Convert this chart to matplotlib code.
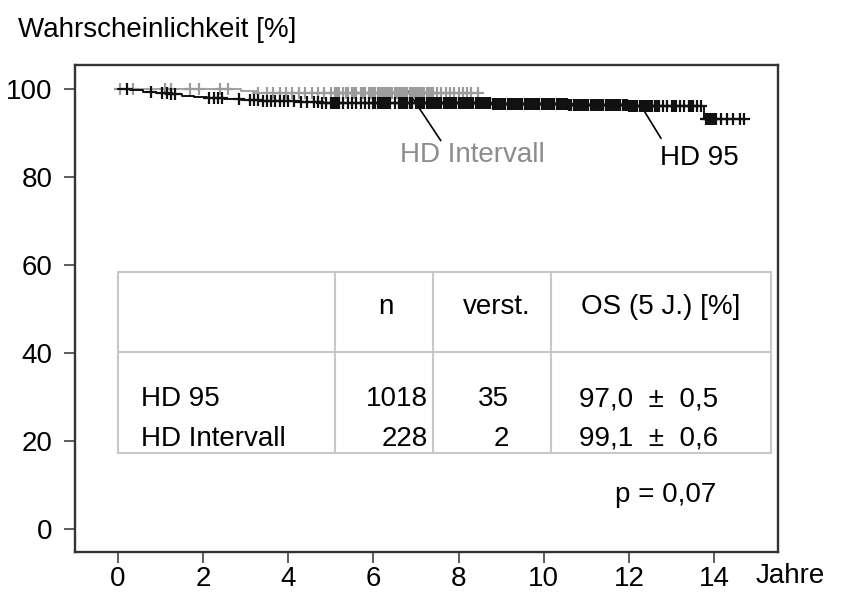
import matplotlib
matplotlib.use("Agg")
import matplotlib.pyplot as plt
from matplotlib.patches import Rectangle

plt.rcParams['font.family'] = ['Liberation Sans', 'DejaVu Sans']

# Kaplan-Meier steps (Jahre, Überleben in %)
hd95_time = [0, 0.3, 0.6, 0.9, 1.2, 1.5, 1.8, 2.1, 2.5, 2.9, 3.4, 4.2, 4.8, 7.0, 8.8, 10.6, 12.0, 13.75]
hd95_surv = [100, 99.8, 99.5, 99.2, 98.9, 98.6, 98.3, 98.1, 97.9, 97.6, 97.4, 97.2, 97.0, 96.8, 96.6, 96.4, 96.2, 93.2]
hdint_time = [0, 2.9, 3.3]
hdint_surv = [100, 99.55, 99.1]

# zensierte Beobachtungen
hd95_cens = [0.22, 0.78, 1.05, 1.15, 1.25, 1.35, 2.15, 2.25, 2.35, 2.45, 2.85,
             3.1, 3.2, 3.3, 3.4, 3.5, 3.6, 3.7, 3.8, 3.9, 4.0, 4.15, 4.3, 4.45,
             4.6, 4.7, 4.8, 4.9, 5.0, 5.05, 5.1, 5.15, 5.2, 5.3, 5.4, 5.5, 5.6,
             5.7, 5.8, 5.9, 6.0, 6.05, 6.1, 6.15, 6.2, 6.25, 6.3, 6.35, 6.4, 6.5,
             6.6, 6.65, 6.7, 6.75, 6.8, 6.85, 6.9, 7.0, 7.05, 7.1, 7.15, 7.2, 7.25,
             7.3, 7.35, 7.4, 7.45, 7.5, 7.55, 7.6, 7.65, 7.7, 7.75, 7.8, 7.85, 7.9,
             7.95, 8.0, 8.05, 8.1, 8.15, 8.2, 8.25, 8.3, 8.35, 8.4, 8.45, 8.5, 8.55,
             8.6, 8.65, 8.7, 8.75, 8.8, 8.85, 8.9, 8.95, 9.0, 9.05, 9.1, 9.15, 9.2,
             9.25, 9.3, 9.35, 9.4, 9.45, 9.5, 9.55, 9.6, 9.65, 9.7, 9.75, 9.8, 9.85,
             9.9, 9.95, 10.0, 10.05, 10.1, 10.15, 10.2, 10.25, 10.3, 10.35, 10.4,
             10.45, 10.5, 10.55, 10.6, 10.65, 10.7, 10.75, 10.8, 10.85, 10.9, 10.95,
             11.0, 11.05, 11.1, 11.15, 11.2, 11.25, 11.3, 11.35, 11.4, 11.45, 11.5,
             11.55, 11.6, 11.65, 11.7, 11.75, 11.8, 11.85, 11.9, 11.95, 12.0, 12.05,
             12.1, 12.15, 12.2, 12.25, 12.3, 12.35, 12.4, 12.45, 12.5, 12.55, 12.6,
             12.65, 12.7, 12.8, 12.9, 13.0, 13.05, 13.1, 13.2, 13.3, 13.4, 13.45,
             13.5, 13.6, 13.7, 13.8, 13.85, 13.9, 13.95, 14.0, 14.05, 14.15, 14.3,
             14.45, 14.6, 14.7]
hdint_cens = [0.05, 0.35, 1.1, 1.25, 1.7, 1.9, 2.4, 2.6, 3.3, 3.5, 3.65, 3.8,
              3.95, 4.1, 4.25, 4.4, 4.55, 4.7, 4.85, 5.0, 5.1, 5.15, 5.2, 5.3, 5.35,
              5.4, 5.5, 5.55, 5.6, 5.7, 5.75, 5.8, 5.9, 5.95, 6.0, 6.05, 6.1, 6.15,
              6.2, 6.25, 6.3, 6.35, 6.4, 6.45, 6.5, 6.55, 6.6, 6.65, 6.7, 6.75, 6.8,
              6.85, 6.9, 6.95, 7.0, 7.05, 7.1, 7.15, 7.2, 7.25, 7.3, 7.35, 7.4, 7.5,
              7.6, 7.7, 7.8, 7.9, 8.0, 8.1, 8.2, 8.3, 8.45]

# Tabelle
tab_header = ["n", "verst.", "OS (5 J.) [%]"]
tab_groups = ["HD 95", "HD Intervall"]
tab_n = [1018, 228]
tab_deaths = [35, 2]
tab_os = ["97,0  \u00b1  0,5", "99,1  \u00b1  0,6"]
p_text = "p = 0,07"

xticks = [0, 2, 4, 6, 8, 10, 12, 14]
yticks = [0, 20, 40, 60, 80, 100]

black = "#000000"
grey = "#8c8c8c"
grey_mark = "#9c9c9c"
table_col = "#c8c8c8"


def surv_at(times, surv, t):
    s = surv[0]
    for ti, si in zip(times, surv):
        if ti <= t:
            s = si
    return s


def km(ax, times, surv, cens, color, mcolor, lw):
    end = max(cens)
    ax.step(times + [end], surv + [surv[-1]], where='post', color=color, lw=lw, zorder=3)
    ys = [surv_at(times, surv, c) for c in cens]
    ax.plot(cens, ys, ls='none', marker='+', ms=8, mew=1.6, color=mcolor, zorder=3)


fig = plt.figure(figsize=(8.43, 5.98), dpi=100)
ax = fig.add_axes([0.089, 0.077, 0.834, 0.814])

km(ax, hdint_time, hdint_surv, hdint_cens, grey_mark, grey_mark, 1.3)
km(ax, hd95_time, hd95_surv, hd95_cens, black, "#111111", 1.3)

ax.set_xlim(-1.0, 15.5)
ax.set_ylim(-5.2, 105.5)
ax.set_xticks(xticks)
ax.set_yticks(yticks)
ax.tick_params(direction='out', length=8, width=1.1, labelsize=20, color="#333333")
ax.tick_params(axis='x', pad=2)
ax.tick_params(axis='y', pad=8)
for sp in ax.spines.values():
    sp.set_linewidth(1.7)
    sp.set_color("#333333")

fs = 20

# Beschriftung der Kurven
ax.plot([6.82, 7.58], [99.5, 88.4], color=black, lw=1.2)
ax.plot([12.35, 12.75], [95.2, 88.9], color=black, lw=1.2)
ax.text(8.33, 85, "HD Intervall", color=grey, fontsize=fs, ha='center', va='center')
ax.text(13.65, 84.3, "HD 95", color=black, fontsize=fs, ha='center', va='center')

# Tabelle
x0, x1 = 0.02, 15.34
y0, y1 = 17.3, 58.4
ax.add_patch(Rectangle((x0, y0), x1 - x0, y1 - y0, fill=False, ec=table_col, lw=1.5, zorder=2))
ax.plot([x0, x1], [40.2, 40.2], color=table_col, lw=1.5)
for xc in [5.1, 7.41, 10.16]:
    ax.plot([xc, xc], [y0, y1], color=table_col, lw=1.5)

ax.text(6.3, 50.6, tab_header[0], fontsize=fs, ha='center', va='center')
ax.text(8.9, 50.6, tab_header[1], fontsize=fs, ha='center', va='center')
ax.text(12.75, 50.6, tab_header[2], fontsize=fs, ha='center', va='center')
for i, yr in enumerate([29.5, 20.6]):
    ax.text(0.55, yr, tab_groups[i], fontsize=fs, ha='left', va='center')
    ax.text(7.27, yr, str(tab_n[i]), fontsize=fs, ha='right', va='center')
    ax.text(9.19, yr, str(tab_deaths[i]), fontsize=fs, ha='right', va='center')
    ax.text(10.83, yr, tab_os[i], fontsize=fs, ha='left', va='center')

ax.text(11.67, 7.7, p_text, fontsize=fs, ha='left', va='center')

fig.text(18 / 843, 1 - 30 / 598, "Wahrscheinlichkeit [%]", fontsize=fs, ha='left', va='center')
fig.text(790 / 843, 1 - 576 / 598, "Jahre", fontsize=fs, ha='center', va='center')

fig.savefig("out.png", dpi=100)
